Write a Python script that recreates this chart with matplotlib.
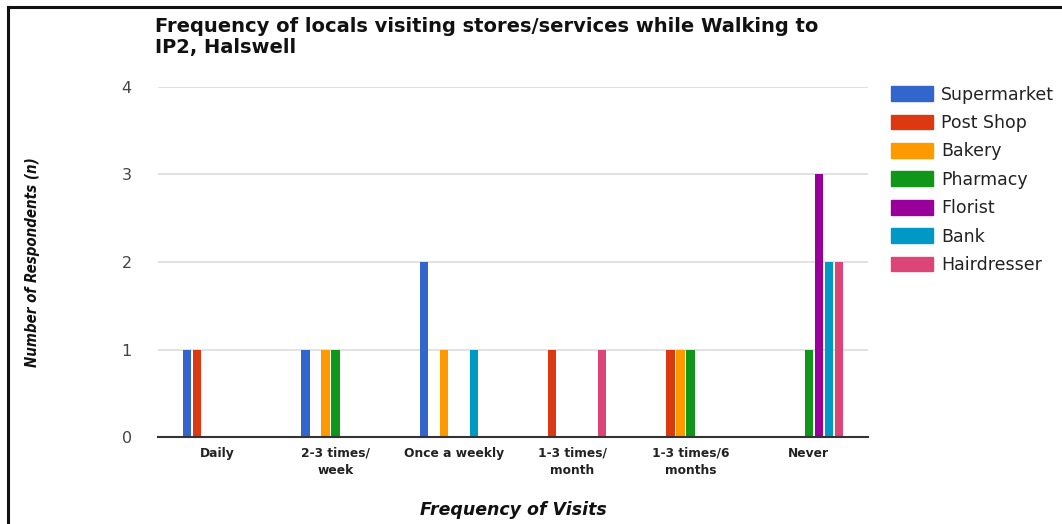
import matplotlib.pyplot as plt
import numpy as np
from matplotlib.lines import Line2D
from matplotlib.patches import Patch

# Visit frequency categories and store/service counts
categories = ["Daily", "2-3 times/\nweek", "Once a weekly", "1-3 times/\nmonth",
              "1-3 times/6\nmonths", "Never"]
series = ["Supermarket", "Post Shop", "Bakery", "Pharmacy", "Florist", "Bank", "Hairdresser"]
supermarket = [1, 1, 2, 0, 0, 0]
post_shop = [1, 0, 0, 1, 1, 0]
bakery = [0, 1, 1, 0, 1, 0]
pharmacy = [0, 1, 0, 0, 1, 1]
florist = [0, 0, 0, 0, 0, 3]
bank = [0, 0, 1, 0, 0, 2]
hairdresser = [0, 0, 0, 1, 0, 2]
values = [supermarket, post_shop, bakery, pharmacy, florist, bank, hairdresser]
colors = ["#3366cc", "#dc3912", "#ff9900", "#109618", "#990099", "#0099c6", "#dd4477"]

fig = plt.figure(figsize=(10.62, 5.24), dpi=100)
ax = fig.add_axes([0.1488, 0.166, 0.6685, 0.668])

x = np.arange(len(categories))
pitch = 0.0845
bar_width = 0.068
for j, (vals, col) in enumerate(zip(values, colors)):
    ax.bar(x + (j - 3) * pitch, vals, width=bar_width, color=col, zorder=3)

ax.set_xlim(-0.5, len(categories) - 0.5)
ax.set_ylim(0, 4)
ax.set_yticks([0, 1, 2, 3, 4])
ax.set_xticks(x)
ax.set_xticklabels(categories, fontsize=8.8, fontweight="bold", color="#222222",
                   linespacing=1.4)
ax.tick_params(axis="x", length=0, pad=7)
ax.tick_params(axis="y", length=0, pad=19, labelsize=11.5, labelcolor="#444444")
ax.grid(axis="y", color="#dddddd", linewidth=1.2, zorder=0)
for side in ["top", "right", "left"]:
    ax.spines[side].set_visible(False)
ax.spines["bottom"].set_color("#333333")
ax.spines["bottom"].set_linewidth(1.5)
ax.spines["bottom"].set_zorder(4)

fig.text(0.146, 0.968, "Frequency of locals visiting stores/services while Walking to\nIP2, Halswell",
         fontsize=14, fontweight="bold", color="#111111", va="top", ha="left",
         linespacing=1.15)
fig.text(0.031, 0.5, "Number of Respondents (n)", rotation=90, ha="center", va="center",
         fontsize=10.8, fontweight="bold", style="italic", color="#111111", fontstretch="condensed")
fig.text(0.483, 0.027, "Frequency of Visits", ha="center", va="center",
         fontsize=12.5, fontweight="bold", style="italic", color="#111111")

handles = [Patch(facecolor=c, edgecolor=c) for c in colors]
fig.legend(handles, series, loc="upper left", bbox_to_anchor=(0.832, 0.85),
           frameon=False, fontsize=12.5, labelcolor="#222222",
           handlelength=2.47, handleheight=0.92, handletextpad=0.45, labelspacing=0.6,
           borderaxespad=0)

# frame lines along the left and top edges
fig.add_artist(Line2D([0.008, 0.008], [0, 0.987], transform=fig.transFigure,
                      color="#111111", linewidth=2.2))
fig.add_artist(Line2D([0.008, 1.0], [0.987, 0.987], transform=fig.transFigure,
                      color="#111111", linewidth=2.2))

fig.savefig("out.png", dpi=100)
